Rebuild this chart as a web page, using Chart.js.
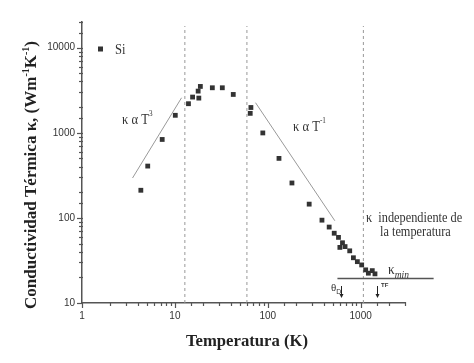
<!DOCTYPE html>
<html>
<head>
<meta charset="utf-8">
<script src="https://cdn.jsdelivr.net/npm/chart.js@4.4.0/dist/chart.umd.min.js"></script>
<style>
  html, body { margin: 0; padding: 0; background: #fff; }
  #wrap { width: 474px; height: 363px; }
</style>
</head>
<body>
<div id="wrap"><canvas id="kappaChart"></canvas></div>
<script>
// Si thermal conductivity vs temperature
const temperature = [4.3, 5.1, 7.3, 10.1, 14.0, 15.5, 17.8, 18.1, 18.8, 25.3, 32.4, 42.5,
  64.7, 65.8, 88.4, 132, 182, 279, 383, 458, 519, 577, 597, 637, 679, 762, 835, 921,
  1025, 1132, 1210, 1333, 1425];
const conductivity = [211, 406, 834, 1603, 2193, 2625, 3085, 2553, 3500, 3376, 3376, 2818,
  1690, 1980, 995, 500, 257, 145, 94, 78, 66, 59, 45, 51, 46, 41, 34, 30.6,
  28, 24.5, 22.4, 24, 22];

// guide lines
const cubeLawT = [3.5, 11.8];
const cubeLawK = [294, 2577];
const inverseLawT = [73.8, 527];
const inverseLawK = [2255, 92.5];
const kappaMinT = [562, 6100];
const kappaMinK = [19.4, 19.4];
const regionLimits = [12.8, 59.6, 1069];
const debyeT = 611;
const fusionT = 1510;

const xRange = [1, 3000];
const yRange = [10, 20000];
const decadeTicks = [1, 10, 100, 1000, 10000];

const ink = '#333';
const axisColor = '#555';
const serif = '"Liberation Serif", "Times New Roman", serif';
const sans = '"Liberation Sans", Arial, sans-serif';

const isDecade = v => decadeTicks.includes(Math.round(v));

function lineSet(xs, ys, extra) {
  return Object.assign({
    type: 'line',
    data: xs.map((v, i) => ({x: v, y: ys[i]})),
    borderColor: '#999',
    borderWidth: 1,
    pointRadius: 0,
    fill: false,
    order: 2
  }, extra || {});
}

const datasets = [
  {
    label: 'Si',
    type: 'scatter',
    data: temperature.map((t, i) => ({x: t, y: conductivity[i]})),
    pointStyle: 'rect',
    pointRadius: 3.4,
    backgroundColor: ink,
    borderColor: ink,
    borderWidth: 0,
    order: 1
  },
  lineSet(cubeLawT, cubeLawK),
  lineSet(inverseLawT, inverseLawK),
  lineSet(kappaMinT, kappaMinK, {borderColor: '#555', borderWidth: 1.5, clip: false})
];
regionLimits.forEach(t => {
  datasets.push(lineSet([t, t], [10, 18000], {borderColor: '#999', borderDash: [3, 3]}));
});

// text pieces drawn left to right, optionally squeezed horizontally
function drawRich(ctx, parts, x, y, opts) {
  opts = opts || {};
  const sx = opts.sx || 1;
  let w = 0;
  parts.forEach(p => { ctx.font = p.font; p.w = ctx.measureText(p.t).width; w += p.w; });
  ctx.save();
  ctx.translate(x, y);
  if (opts.rotate) ctx.rotate(opts.rotate);
  ctx.scale(sx, 1);
  let cx = opts.align === 'center' ? -w / 2 : 0;
  parts.forEach(p => {
    ctx.font = p.font;
    ctx.fillText(p.t, cx, p.dy || 0);
    cx += p.w;
  });
  ctx.restore();
}

function arrowDown(ctx, px, y0, y1) {
  ctx.beginPath();
  ctx.moveTo(px, y0);
  ctx.lineTo(px, y1 - 3);
  ctx.stroke();
  ctx.beginPath();
  ctx.moveTo(px - 2, y1 - 4);
  ctx.lineTo(px + 2, y1 - 4);
  ctx.lineTo(px, y1);
  ctx.closePath();
  ctx.fill();
}

const decor = {
  id: 'decor',
  afterDraw(chart) {
    const {ctx, chartArea: ca, scales: {x, y}} = chart;
    ctx.save();
    ctx.strokeStyle = axisColor;
    ctx.lineWidth = 1.2;
    // tick marks, longer at decades
    x.ticks.forEach(t => {
      const px = Math.round(x.getPixelForValue(t.value)) + 0.5;
      const len = isDecade(t.value) ? 5 : 3;
      ctx.beginPath();
      ctx.moveTo(px, ca.bottom - 1);
      ctx.lineTo(px, ca.bottom + len);
      ctx.stroke();
    });
    y.ticks.forEach(t => {
      const py = Math.round(y.getPixelForValue(t.value)) + 0.5;
      const len = isDecade(t.value) ? 5 : 3;
      ctx.beginPath();
      ctx.moveTo(ca.left + 1, py);
      ctx.lineTo(ca.left - len, py);
      ctx.stroke();
    });

    ctx.fillStyle = '#222';
    ctx.textBaseline = 'alphabetic';
    const big = 'bold 17px ' + serif;
    const sup = 'bold 10px ' + serif;
    drawRich(ctx, [
      {t: 'Conductividad Térmica κ, (Wm', font: big},
      {t: '-1', font: sup, dy: -7},
      {t: 'K', font: big},
      {t: '-1', font: sup, dy: -7},
      {t: ')', font: big}
    ], 36, 175, {rotate: -Math.PI / 2, align: 'center', sx: 1});
    drawRich(ctx, [{t: 'Temperatura (K)', font: big}], 247, 346, {align: 'center', sx: 0.98});

    // legend
    ctx.fillStyle = ink;
    ctx.fillRect(ca.left + 16, 46.5, 5, 5);
    drawRich(ctx, [{t: 'Si', font: '14px ' + serif}], ca.left + 33, 54, {sx: 0.9});

    // annotations
    const f14 = '14px ' + serif;
    const f8 = '8px ' + serif;
    drawRich(ctx, [{t: 'κ α T', font: f14}, {t: '3', font: f8, dy: -8}], 122, 124, {sx: 0.9});
    drawRich(ctx, [{t: 'κ α T', font: f14}, {t: '-1', font: f8, dy: -8}], 293, 131, {sx: 0.9});
    drawRich(ctx, [{t: 'κ  independiente de', font: f14}], 366, 222, {sx: 0.88});
    drawRich(ctx, [{t: 'la temperatura', font: f14}], 380, 236, {sx: 0.88});
    drawRich(ctx, [{t: 'κ', font: f14}, {t: 'min', font: 'italic 10px ' + serif, dy: 4}], 388, 274, {sx: 0.95});
    drawRich(ctx, [{t: 'θ', font: '11px ' + serif}, {t: 'D', font: '7px ' + sans, dy: 3}], 331, 291);
    drawRich(ctx, [{t: 'TF', font: 'bold 6px ' + sans}], 381, 287);

    ctx.strokeStyle = '#222';
    ctx.fillStyle = '#222';
    ctx.lineWidth = 1;
    const axY = ca.bottom;
    arrowDown(ctx, Math.round(x.getPixelForValue(debyeT)) + 0.5, axY - 17, axY - 5);
    arrowDown(ctx, Math.round(x.getPixelForValue(fusionT)) + 0.5, axY - 17, axY - 5);
    ctx.restore();
  }
};

const axisCommon = {
  type: 'logarithmic',
  grid: {display: false, drawTicks: false},
  border: {display: true, color: axisColor, width: 1.5},
  ticks: {
    autoSkip: false,
    maxRotation: 0,
    padding: 7,
    color: ink,
    font: {family: sans, size: 10},
    callback: v => isDecade(v) && decadeTicks.includes(v) ? String(v) : ''
  }
};

new Chart(document.getElementById('kappaChart'), {
  type: 'scatter',
  data: {datasets: datasets},
  options: {
    responsive: true,
    maintainAspectRatio: false,
    animation: false,
    events: [],
    layout: {padding: {top: 22, right: 69, bottom: 0, left: 0}},
    plugins: {legend: {display: false}, tooltip: {enabled: false}},
    scales: {
      x: Object.assign({}, axisCommon, {
        min: xRange[0], max: xRange[1],
        afterFit: s => { s.height = 60; }
      }),
      y: Object.assign({}, axisCommon, {
        min: yRange[0], max: yRange[1],
        afterFit: s => { s.width = 82; }
      })
    }
  },
  plugins: [decor]
});
</script>
</body>
</html>
